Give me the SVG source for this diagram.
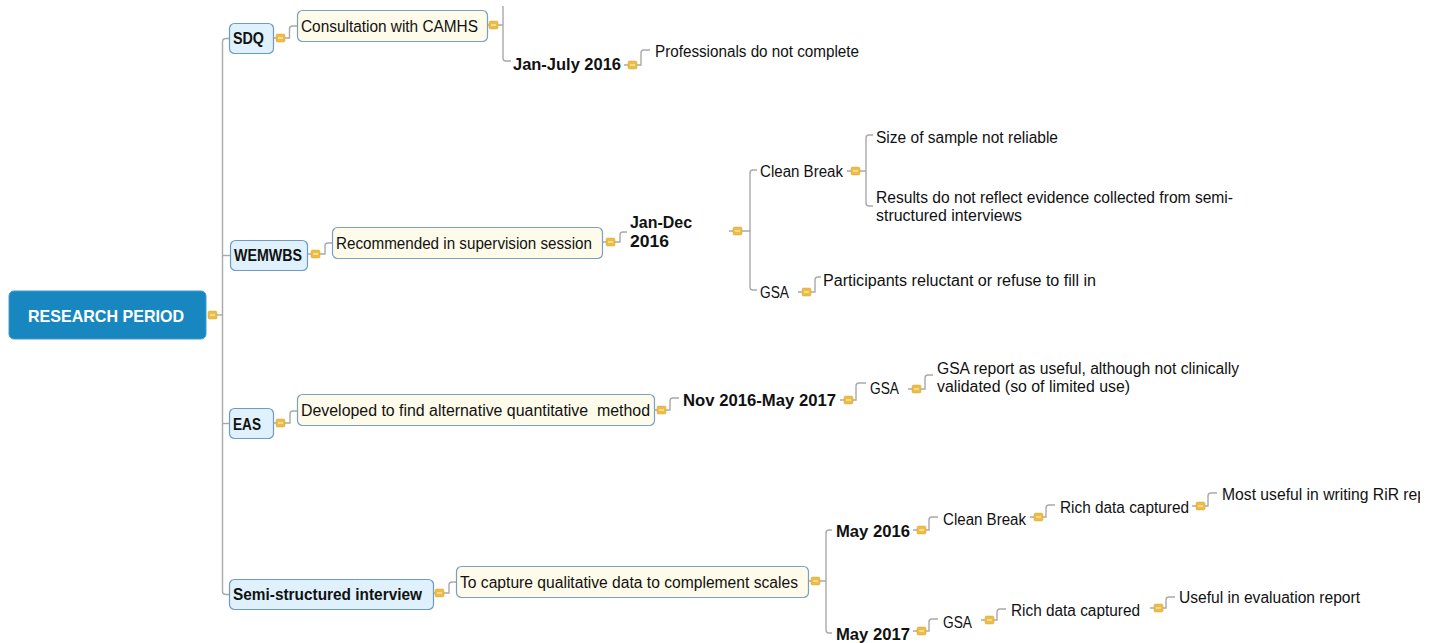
<svg xmlns="http://www.w3.org/2000/svg" xmlns:xlink="http://www.w3.org/1999/xlink" width="1437" height="643" viewBox="0 0 1437 643">
<style>
.conn{fill:none;stroke:#a9a9a9;stroke-width:1.4}
.b1{fill:#def1fc;stroke:#6d9bc3;stroke-width:1.2}
.b2{fill:#fefbea;stroke:#7aa0c2;stroke-width:1.2}
.root{fill:#1887bf;stroke:#3d9ccc;stroke-width:1}
.t{font-family:"Liberation Sans",Arial,sans-serif;font-size:16px;fill:#111}
.tb{font-family:"Liberation Sans",Arial,sans-serif;font-size:16px;font-weight:bold;fill:#111}
.tr{font-family:"Liberation Sans",Arial,sans-serif;font-size:17px;font-weight:bold;fill:#ffffff}
</style>
<defs>
<g id="mk"><rect x="0" y="0" width="9" height="8" rx="1.5" fill="#ecbc47" stroke="#d8a933" stroke-width="0.5"/><rect x="2" y="3.3" width="5" height="1.4" fill="#fbeaa9"/></g>
<clipPath id="edge"><rect x="0" y="0" width="1420" height="643"/></clipPath>
</defs>
<rect x="0" y="0" width="1437" height="643" fill="#ffffff"/>
<g id="connectors">
<path class="conn" d="M217,315 H222.5"/>
<path class="conn" d="M229,38.5 H226 Q222.5,38.5 222.5,42 V591 Q222.5,594.5 226,594.5 H229"/>
<path class="conn" d="M222.5,255.5 H230"/>
<path class="conn" d="M222.5,423.5 H229"/>
<path class="conn" d="M274,38 H276 M284,38 H289.5 V29 Q289.5,26 292.5,26 H297"/>
<path class="conn" d="M488,25 H489 M497,25 H503"/>
<path class="conn" d="M503,6 V58 Q503,61 506,61 H511"/>
<path class="conn" d="M624,65 H628 M637,65 H641 V53 Q641,50 644,50 H650"/>
<path class="conn" d="M308,254 H311 M319,254 H325 V246 Q325,243 328,243 H332"/>
<path class="conn" d="M603,242 H606 M615,242 H620 V235 Q620,232 623,232 H627"/>
<path class="conn" d="M729,231 H733 M742,231 H750"/>
<path class="conn" d="M757,170 H753 Q750,170 750,173 V287 Q750,290 753,290 H757"/>
<path class="conn" d="M847,171 H851 M860,171 H866"/>
<path class="conn" d="M873,135 H869 Q866,135 866,138 V203 Q866,206 869,206 H873"/>
<path class="conn" d="M798,292 H802 M811,292 H815 V280 Q815,277 818,277 H821"/>
<path class="conn" d="M274,423 H276 M284,423 H290 V414 Q290,411 293,411 H297"/>
<path class="conn" d="M655,410 H657 M666,410 H670 V401 Q670,398 673,398 H679"/>
<path class="conn" d="M840,400 H844 M853,400 H856 V386 Q856,383 859,383 H866"/>
<path class="conn" d="M908,389 H912 M921,389 H925 V378 Q925,375 928,375 H933"/>
<path class="conn" d="M434,593 H435 M444,593 H449 V585 Q449,582 452,582 H456"/>
<path class="conn" d="M809,581 H811 M820,581 H826"/>
<path class="conn" d="M832,530 H829 Q826,530 826,533 V630 Q826,633 829,633 H832"/>
<path class="conn" d="M913,530 H917 M926,530 H929 V520 Q929,517 932,517 H938"/>
<path class="conn" d="M1030,517 H1034 M1043,517 H1046 V508 Q1046,505 1049,505 H1055"/>
<path class="conn" d="M1192,506 H1196 M1205,506 H1208 V496 Q1208,493 1211,493 H1217"/>
<path class="conn" d="M913,631 H917 M926,631 H929 V622 Q929,619 932,619 H938"/>
<path class="conn" d="M981,620 H985 M994,620 H997 V612 Q997,609 1000,609 H1006"/>
<path class="conn" d="M1150,608 H1154 M1163,608 H1166 V600 Q1166,597 1169,597 H1175"/>
</g>
<g id="root"><rect class="root" x="9" y="291" width="197" height="48" rx="5"/><text class="tr" x="28" y="322" textLength="156" lengthAdjust="spacingAndGlyphs">RESEARCH PERIOD</text><use xlink:href="#mk" x="208" y="311"/></g>
<g id="sdq"><rect class="b1" x="229.5" y="23.5" width="44" height="30" rx="5"/><text class="tb" x="233" y="44" textLength="31" lengthAdjust="spacingAndGlyphs">SDQ</text><use xlink:href="#mk" x="276" y="34"/></g>
<g id="consultation"><rect class="b2" x="297.5" y="10.5" width="190" height="31" rx="5"/><text class="t" x="301" y="32" textLength="177" lengthAdjust="spacingAndGlyphs">Consultation with CAMHS</text><use xlink:href="#mk" x="489" y="21"/></g>
<g id="janjuly"><text class="tb" x="513" y="70" textLength="108" lengthAdjust="spacingAndGlyphs">Jan-July 2016</text><use xlink:href="#mk" x="628" y="61"/></g>
<g id="professionals"><text class="t" x="655" y="57" textLength="204" lengthAdjust="spacingAndGlyphs">Professionals do not complete</text></g>
<g id="wemwbs"><rect class="b1" x="230.5" y="240.5" width="77" height="30" rx="5"/><text class="tb" x="234" y="261" textLength="68" lengthAdjust="spacingAndGlyphs">WEMWBS</text><use xlink:href="#mk" x="311" y="250"/></g>
<g id="recommended"><rect class="b2" x="332.5" y="227.5" width="270" height="31" rx="5"/><text class="t" x="336" y="249" textLength="256" lengthAdjust="spacingAndGlyphs">Recommended in supervision session</text><use xlink:href="#mk" x="606" y="238"/></g>
<g id="jandec"><text class="tb" x="630" y="228" textLength="62" lengthAdjust="spacingAndGlyphs">Jan-Dec</text><text class="tb" x="630" y="247" textLength="39" lengthAdjust="spacingAndGlyphs">2016</text><use xlink:href="#mk" x="733" y="227"/></g>
<g id="cleanbreak1"><text class="t" x="760" y="177" textLength="83" lengthAdjust="spacingAndGlyphs">Clean Break</text><use xlink:href="#mk" x="851" y="167"/></g>
<g id="size"><text class="t" x="876" y="143" textLength="182" lengthAdjust="spacingAndGlyphs">Size of sample not reliable</text></g>
<g id="results"><text class="t" x="876" y="203" textLength="357" lengthAdjust="spacingAndGlyphs">Results do not reflect evidence collected from semi-</text><text class="t" x="876" y="221" textLength="146" lengthAdjust="spacingAndGlyphs">structured interviews</text></g>
<g id="gsa1"><text class="t" x="760" y="298" textLength="29" lengthAdjust="spacingAndGlyphs">GSA</text><use xlink:href="#mk" x="802" y="288"/></g>
<g id="participants"><text class="t" x="823" y="286" textLength="273" lengthAdjust="spacingAndGlyphs">Participants reluctant or refuse to fill in</text></g>
<g id="eas"><rect class="b1" x="229.5" y="408.5" width="44" height="30" rx="5"/><text class="tb" x="233" y="430" textLength="28" lengthAdjust="spacingAndGlyphs">EAS</text><use xlink:href="#mk" x="276" y="419"/></g>
<g id="developed"><rect class="b2" x="297.5" y="394.5" width="357" height="31" rx="5"/><text class="t" x="301" y="416" textLength="349" lengthAdjust="spacingAndGlyphs" style="white-space:pre">Developed to find alternative quantitative  method</text><use xlink:href="#mk" x="657" y="406"/></g>
<g id="nov"><text class="tb" x="683" y="406" textLength="153" lengthAdjust="spacingAndGlyphs">Nov 2016-May 2017</text><use xlink:href="#mk" x="844" y="396"/></g>
<g id="gsa2"><text class="t" x="870" y="394" textLength="29" lengthAdjust="spacingAndGlyphs">GSA</text><use xlink:href="#mk" x="912" y="385"/></g>
<g id="gsareport"><text class="t" x="937" y="374" textLength="302" lengthAdjust="spacingAndGlyphs">GSA report as useful, although not clinically</text><text class="t" x="937" y="392" textLength="193" lengthAdjust="spacingAndGlyphs">validated (so of limited use)</text></g>
<g id="semi"><rect class="b1" x="229.5" y="579.5" width="204" height="30" rx="5"/><text class="tb" x="233" y="600" textLength="189" lengthAdjust="spacingAndGlyphs">Semi-structured interview</text><use xlink:href="#mk" x="435" y="589"/></g>
<g id="capture"><rect class="b2" x="456.5" y="566.5" width="352" height="31" rx="5"/><text class="t" x="460" y="588" textLength="338" lengthAdjust="spacingAndGlyphs">To capture qualitative data to complement scales</text><use xlink:href="#mk" x="811" y="577"/></g>
<g id="may2016"><text class="tb" x="836" y="537" textLength="74" lengthAdjust="spacingAndGlyphs">May 2016</text><use xlink:href="#mk" x="917" y="526"/></g>
<g id="cleanbreak2"><text class="t" x="943" y="525" textLength="83" lengthAdjust="spacingAndGlyphs">Clean Break</text><use xlink:href="#mk" x="1034" y="513"/></g>
<g id="rich1"><text class="t" x="1060" y="513" textLength="129" lengthAdjust="spacingAndGlyphs">Rich data captured</text><use xlink:href="#mk" x="1196" y="502"/></g>
<g id="mostuseful" clip-path="url(#edge)"><text class="t" x="1222" y="500" textLength="204" lengthAdjust="spacingAndGlyphs">Most useful in writing RiR rep</text></g>
<g id="may2017"><text class="tb" x="836" y="640" textLength="74" lengthAdjust="spacingAndGlyphs">May 2017</text><use xlink:href="#mk" x="917" y="627"/></g>
<g id="gsa3"><text class="t" x="943" y="628" textLength="29" lengthAdjust="spacingAndGlyphs">GSA</text><use xlink:href="#mk" x="985" y="616"/></g>
<g id="rich2"><text class="t" x="1011" y="616" textLength="129" lengthAdjust="spacingAndGlyphs">Rich data captured</text><use xlink:href="#mk" x="1154" y="604"/></g>
<g id="evaluation"><text class="t" x="1179" y="603" textLength="181" lengthAdjust="spacingAndGlyphs">Useful in evaluation report</text></g>
</svg>
